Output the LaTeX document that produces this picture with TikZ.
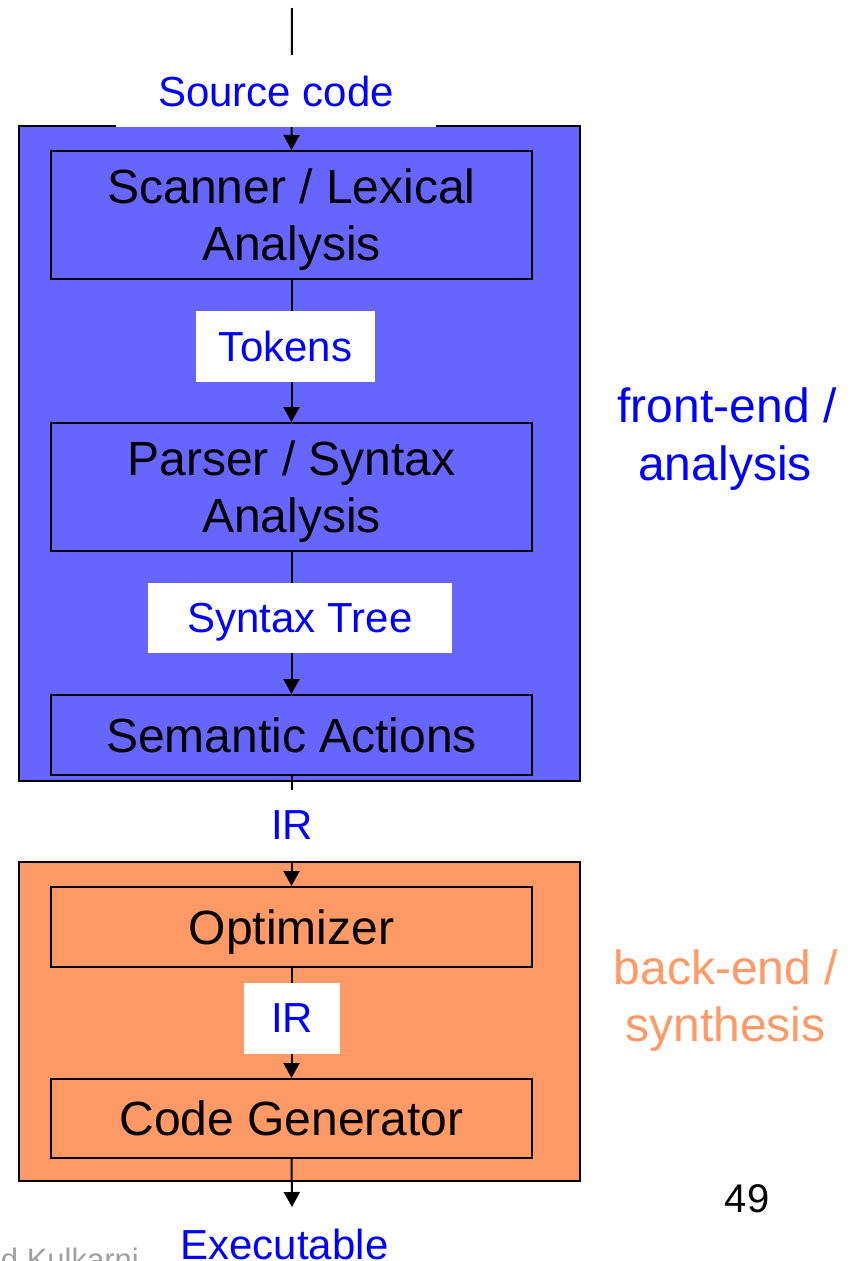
\documentclass[tikz,border=0pt]{standalone}
\usepackage{fontspec}
\setmainfont{Liberation Sans}
\usetikzlibrary{arrows.meta}

\definecolor{frontfill}{HTML}{6666FF}
\definecolor{backfill}{HTML}{FF9966}
\definecolor{labelblue}{HTML}{0000FF}
\definecolor{backtext}{HTML}{FF9966}
\definecolor{footgray}{HTML}{A0A0A0}

\begin{document}
\begin{tikzpicture}[x=1pt,y=-1pt,
  phase/.style={draw=black, line width=2pt, fill=#1, minimum width=561pt, inner sep=0pt},
  stage/.style={draw=black, line width=2pt, fill=#1, minimum width=481pt, inner sep=0pt,
                text depth=0pt, align=center, font=\fontsize{48}{57}\selectfont},
  flowlabel/.style={fill=white, text=labelblue, inner sep=0pt, text depth=0pt,
                    font=\fontsize{42}{48}\selectfont},
  flow/.style={line width=2pt, -{Triangle[length=15pt,width=16pt]}},
  sidetext/.style={anchor=base, inner sep=0pt, font=\fontsize{48}{57}\selectfont},
]
\useasboundingbox (0,0) rectangle (850,1261);
\fill[white] (0,0) rectangle (850,1261);
\clip (0,0) rectangle (850,1261);

% phase frames
\node[phase=frontfill, minimum height=655pt] (front) at (299.5,453.5) {};
\node[phase=backfill, minimum height=319pt] (back) at (299.5,1021.5) {};

% compiler stages
\node[stage=frontfill, minimum height=128pt] (scanner) at (291.5,215) {Scanner / Lexical\\Analysis};
\node[stage=frontfill, minimum height=128pt] (parser) at (291.5,487) {Parser / Syntax\\Analysis};
\node[stage=frontfill, minimum height=80pt] (semantic) at (291.5,735) {Semantic Actions};
\node[stage=backfill, minimum height=80pt] (optimizer) at (291.5,927) {Optimizer};
\node[stage=backfill, minimum height=79pt] (codegen) at (291.5,1118.5) {Code Generator};

% data flow
\coordinate (entry) at (292,8);
\coordinate (exit) at (292,1207);
\draw[flow] (entry) -- (scanner.north);
\draw[flow] (scanner.south) -- (parser.north);
\draw[flow] (parser.south) -- (semantic.north);
\draw[flow] (semantic.south) -- (optimizer.north);
\draw[flow] (optimizer.south) -- (codegen.north);
\draw[flow] (codegen.south) -- (exit);

% what flows between the stages
\node[flowlabel, minimum width=320pt, minimum height=72pt] (srclbl) at (276,91) {Source code};
\node[flowlabel, minimum width=179pt, minimum height=71pt] (toklbl) at (285.5,346.5) {Tokens};
\node[flowlabel, minimum width=304pt, minimum height=70pt] (treelbl) at (300,618) {Syntax Tree};
\node[flowlabel, minimum width=96pt, minimum height=71pt] (irlbl) at (292,825.5) {IR};
\node[flowlabel, minimum width=96pt, minimum height=71pt] (irlbltwo) at (292,1018.5) {IR};
\node[flowlabel, fill=none, anchor=base] (exelbl) at (284.5,1259) {Executable};

% phase names
\node[sidetext, text=labelblue] (frontname) at (727,422) {front-end /};
\node[sidetext, text=labelblue] (frontsub) at (725,480) {analysis};
\node[sidetext, text=backtext] (backname) at (726,984) {back-end /};
\node[sidetext, text=backtext] (backsub) at (725.5,1041) {synthesis};

% slide footer
\node[anchor=base, inner sep=0pt, font=\fontsize{40}{48}\selectfont] (pagenum) at (747,1212) {49};
\node[anchor=base east, inner sep=0pt, text=footgray, font=\fontsize{31}{36}\selectfont] (author) at (139,1270) {d Kulkarni};
\end{tikzpicture}
\end{document}
